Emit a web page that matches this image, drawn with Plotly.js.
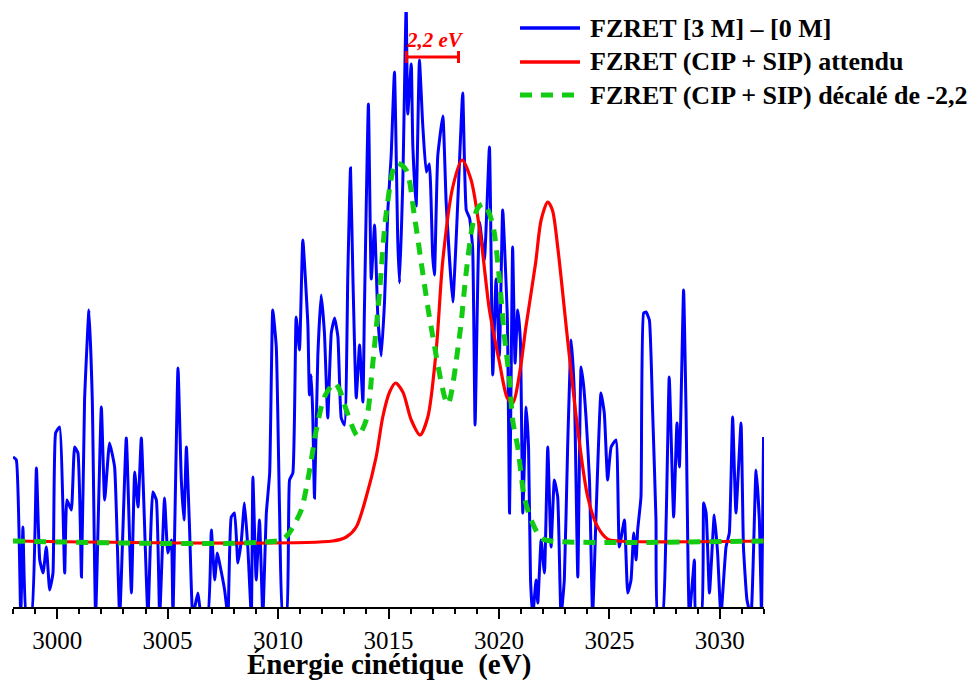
<!DOCTYPE html>
<html>
<head>
<meta charset="utf-8">
<script src="https://cdn.plot.ly/plotly-3.0.1.min.js"></script>
<style>
html,body{margin:0;padding:0;background:#fff;}
#chart{width:974px;height:680px;}
</style>
</head>
<body>
<div id="chart"></div>
<script>
// Measured spectrum FZRET [3 M] - [0 M] (arbitrary units, baseline = 0)
const measuredX = [2998.00,2998.15,2998.35,2998.45,2998.61,2998.83,2999.06,2999.21,2999.36,2999.51,2999.66,2999.81,2999.93,3000.11,3000.34,3000.44,3000.64,3000.79,3000.94,3001.10,3001.24,3001.44,3001.59,3001.74,3002.00,3002.15,3002.37,3002.60,3002.83,3003.13,3003.36,3003.51,3003.66,3003.81,3004.11,3004.33,3004.49,3004.64,3004.86,3005.01,3005.17,3005.24,3005.47,3005.62,3005.74,3005.85,3006.00,3006.14,3006.37,3006.53,3006.81,3006.98,3007.13,3007.25,3007.35,3007.58,3007.73,3007.88,3008.03,3008.18,3008.34,3008.48,3008.63,3008.79,3008.86,3009.01,3009.16,3009.31,3009.47,3009.62,3009.76,3009.92,3010.07,3010.22,3010.38,3010.52,3010.67,3010.82,3010.97,3011.12,3011.35,3011.42,3011.50,3011.57,3011.65,3011.80,3011.95,3012.10,3012.25,3012.41,3012.56,3012.71,3012.86,3013.01,3013.16,3013.28,3013.39,3013.54,3013.69,3013.84,3013.91,3014.09,3014.22,3014.37,3014.52,3014.67,3014.82,3014.97,3015.12,3015.27,3015.42,3015.50,3015.65,3015.80,3015.87,3016.03,3016.10,3016.25,3016.40,3016.55,3016.71,3016.85,3017.00,3017.08,3017.23,3017.46,3017.61,3017.91,3018.06,3018.21,3018.36,3018.52,3018.67,3018.81,3018.92,3019.12,3019.34,3019.57,3019.72,3019.87,3020.02,3020.17,3020.38,3020.48,3020.55,3020.62,3020.73,3020.85,3020.97,3021.08,3021.23,3021.34,3021.43,3021.53,3021.68,3021.76,3021.91,3022.06,3022.21,3022.36,3022.51,3022.66,3022.81,3022.96,3023.11,3023.27,3023.42,3023.57,3023.72,3023.84,3023.95,3024.10,3024.24,3024.40,3024.62,3024.77,3024.92,3025.08,3025.30,3025.45,3025.68,3025.83,3025.98,3026.10,3026.21,3026.28,3026.43,3026.55,3026.66,3026.81,3026.96,3027.11,3027.19,3027.40,3027.57,3027.71,3027.91,3028.06,3028.17,3028.36,3028.47,3028.62,3028.85,3028.92,3029.16,3029.27,3029.38,3029.53,3029.75,3029.90,3030.05,3030.28,3030.43,3030.58,3030.73,3030.96,3031.07,3031.23,3031.41,3031.64,3031.79,3031.89,3031.98];
const measuredY = [0.84,0.81,-0.75,0.14,-0.75,-0.75,0.73,-0.19,-0.32,-0.06,-0.49,-0.32,1.08,1.14,-0.32,0.41,0.31,0.94,0.88,-0.36,1.41,2.31,1.41,-0.75,1.34,0.41,0.98,0.74,-0.75,1.03,-0.52,0.69,0.34,1.03,-0.75,0.49,0.41,-0.75,0.43,-0.12,0.01,-0.75,1.73,0.61,0.21,0.94,0.08,-0.75,-0.52,-0.75,-0.75,0.11,-0.39,-0.12,-0.22,-0.49,-0.75,0.24,0.28,-0.22,0.01,0.38,-0.06,-0.75,0.64,-0.39,0.21,-0.75,0.28,0.68,2.31,1.94,0.28,-0.75,-0.75,0.61,0.68,2.24,1.91,3.01,2.16,1.46,1.66,1.27,0.43,1.85,2.46,2.08,1.23,2.08,2.23,2.04,1.23,1.16,2.69,3.73,2.62,1.43,1.96,1.39,2.31,4.37,2.62,3.16,2.23,1.85,2.39,3.31,3.85,4.69,3.00,2.58,3.62,5.36,4.27,4.77,3.96,3.35,4.81,4.16,3.69,3.77,2.85,2.66,3.85,4.25,3.39,2.39,3.00,3.77,4.48,3.31,3.23,2.93,1.16,3.19,2.81,3.94,1.66,2.62,1.85,3.31,2.23,0.28,1.61,2.94,1.78,2.31,2.01,0.28,1.34,0.94,-0.39,-0.75,-0.39,-0.62,0.01,-0.32,0.94,-0.06,0.61,0.44,-0.75,-0.39,0.94,2.01,1.44,-0.36,1.74,1.54,1.21,0.61,-0.75,0.28,1.48,1.28,0.61,0.94,1.01,-0.06,0.21,-0.52,-0.39,0.08,-0.19,0.11,0.44,2.28,2.29,2.21,1.28,0.21,-0.75,-0.75,0.21,1.64,0.24,1.18,0.74,2.51,1.31,-0.75,-0.19,-0.75,-0.75,0.38,0.28,-0.52,0.26,-0.12,-0.75,-0.06,0.08,1.24,0.28,1.18,-0.06,-0.59,-0.75,0.71,0.21,-0.75,1.04];

// Expected FZRET (CIP + SIP)
const expectedX = [2998.00,3012.47,3013.09,3013.54,3013.99,3014.44,3014.74,3015.05,3015.32,3015.65,3016.03,3016.43,3016.78,3017.16,3017.46,3017.91,3018.33,3018.74,3019.19,3019.57,3020.02,3020.38,3020.62,3020.98,3021.20,3021.66,3021.91,3022.21,3022.42,3022.66,3023.11,3023.57,3024.02,3024.47,3024.92,3025.38,3032.00];
const expectedY = [0,0,0.04,0.14,0.44,0.84,1.24,1.49,1.58,1.49,1.21,1.06,1.24,1.91,2.81,3.54,3.81,3.61,3.01,2.31,1.79,1.43,1.38,1.74,2.11,2.78,3.21,3.39,3.31,2.94,2.01,1.11,0.44,0.14,0.02,0,0];

// Expected FZRET (CIP + SIP), shifted
const shiftedX = [2998.00,3010.14,3010.43,3010.67,3011.05,3011.43,3011.73,3012.10,3012.56,3012.79,3013.09,3013.61,3013.99,3014.29,3014.59,3014.90,3015.35,3015.80,3016.18,3016.55,3016.93,3017.68,3018.21,3018.52,3018.81,3019.07,3019.34,3019.72,3020.02,3020.25,3020.48,3020.62,3020.85,3021.15,3021.46,3021.91,3022.36,3032.00];
const shiftedY = [0,0.01,0.06,0.14,0.31,0.71,1.11,1.44,1.58,1.51,1.31,1.05,1.21,1.78,2.48,3.28,3.78,3.71,3.24,2.68,2.14,1.37,2.04,2.69,3.16,3.34,3.37,3.16,2.62,2.04,1.61,1.21,0.94,0.44,0.21,0.03,0,0];

const seriesNames = ['FZRET [3 M] \u2013 [0 M]', 'FZRET (CIP + SIP) attendu', 'FZRET (CIP + SIP) d\u00e9cal\u00e9 de -2,2 eV'];
const seriesColors = ['#0000ff', '#ff0000', '#11cc11'];
const xTitle = '\u00c9nergie cin\u00e9tique \u00a0(eV)';
const shiftLabel = '2,2 eV';
const shiftStart = 3015.81, shiftEnd = 3018.17, shiftLevel = 4.84;

const serif = 'Liberation Serif';
const greenDash = '12px,9px';

const traces = [
  {x: measuredX, y: measuredY, name: seriesNames[0], type: 'scatter', mode: 'lines',
   line: {color: seriesColors[0], width: 3, shape: 'spline', smoothing: 0.4}},
  {x: expectedX, y: expectedY, name: seriesNames[1], type: 'scatter', mode: 'lines',
   line: {color: seriesColors[1], width: 3.2, shape: 'spline', smoothing: 0.8}},
  {x: shiftedX, y: shiftedY, name: seriesNames[2], type: 'scatter', mode: 'lines',
   line: {color: seriesColors[2], width: 5, dash: greenDash, shape: 'spline', smoothing: 0.8}}
];

// legend drawn in paper coordinates
const legendRows = [0.9731, 0.9160, 0.8605];
const legendLineX0 = 0.6751, legendLineX1 = 0.7550, legendTextX = 0.7650;
const legendShapes = legendRows.map((ry, i) => ({
  type: 'line', xref: 'paper', yref: 'paper', x0: legendLineX0, x1: legendLineX1, y0: ry, y1: ry,
  line: {color: seriesColors[i], width: i === 2 ? 5 : 3.5, dash: i === 2 ? greenDash : 'solid'}
}));
const legendTexts = legendRows.map((ry, i) => ({
  xref: 'paper', yref: 'paper', x: legendTextX, y: ry, xanchor: 'left', yanchor: 'middle',
  text: seriesNames[i], showarrow: false,
  font: {family: serif, size: 26, weight: 'bold', color: '#000'}
}));

const layout = {
  width: 974, height: 680,
  margin: {l: 13, r: 210, t: 12, b: 73, autoexpand: false},
  paper_bgcolor: '#ffffff', plot_bgcolor: '#ffffff',
  font: {family: serif, color: '#000'},
  showlegend: false,
  xaxis: {range: [2998, 3032], showgrid: false, zeroline: false, showline: true,
          linecolor: '#000', linewidth: 2, ticks: 'outside', ticklen: 10, tickwidth: 2,
          tickcolor: '#000', tick0: 3000, dtick: 5,
          minor: {ticks: 'outside', ticklen: 5, tickwidth: 2, tickcolor: '#000', dtick: 1, tick0: 3000, showgrid: false},
          tickfont: {family: serif, size: 25, color: '#000'}},
  yaxis: {range: [-0.66, 5.29], visible: false, showgrid: false, zeroline: false},
  shapes: [
    {type: 'line', xref: 'x', yref: 'y', x0: shiftStart, x1: shiftEnd, y0: shiftLevel, y1: shiftLevel, line: {color: '#ff0000', width: 3}},
    {type: 'line', xref: 'x', yref: 'y', x0: shiftStart, x1: shiftStart, y0: shiftLevel - 0.06, y1: shiftLevel + 0.06, line: {color: '#ff0000', width: 3}},
    {type: 'line', xref: 'x', yref: 'y', x0: shiftEnd, x1: shiftEnd, y0: shiftLevel - 0.06, y1: shiftLevel + 0.06, line: {color: '#ff0000', width: 3}}
  ].concat(legendShapes),
  annotations: [
    {xref: 'x', yref: 'y', x: (shiftStart + shiftEnd) / 2 + 0.1, y: shiftLevel + 0.17, text: shiftLabel,
     showarrow: false, font: {family: serif, size: 21, weight: 'bold', style: 'italic', color: '#ff0000'}},
    {xref: 'paper', yref: 'paper', x: 0.5, y: -0.0965, xanchor: 'center', yanchor: 'middle', text: xTitle,
     showarrow: false, font: {family: serif, size: 29, weight: 'bold', color: '#000'}}
  ].concat(legendTexts)
};

Plotly.newPlot('chart', traces, layout, {displayModeBar: false, staticPlot: true});
</script>
</body>
</html>
